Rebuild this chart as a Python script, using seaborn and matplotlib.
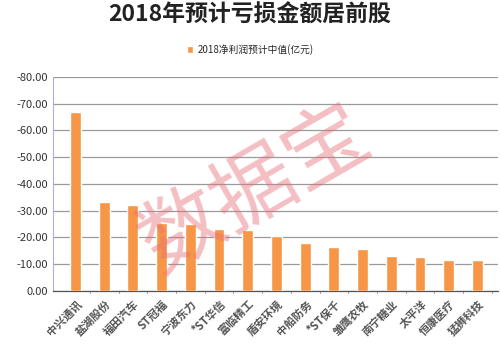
import matplotlib
matplotlib.use("Agg")
import matplotlib.pyplot as plt
import seaborn as sns
import pandas as pd

# data (values in 亿元, negative = loss)
companies = ["中兴通讯", "盐湖股份", "福田汽车", "ST冠福", "宁波东力", "*ST华信", "富临精工",
             "盾安环境", "中船防务", "*ST保千", "雏鹰农牧", "南宁糖业", "太平洋", "恒康医疗", "猛狮科技"]
profit = [-66.9, -33.4, -32.0, -25.3, -25.1, -23.1, -22.6,
          -20.7, -17.8, -16.3, -15.5, -12.9, -12.5, -11.7, -11.7]
series_name = "2018净利润预计中值(亿元)"
y_ticks = [0, -10, -20, -30, -40, -50, -60, -70, -80]

df = pd.DataFrame({"company": companies, "profit": profit})

sns.set_style("white")
plt.rcParams["font.family"] = ["Noto Sans CJK SC", "DejaVu Sans"]

fig, ax = plt.subplots(figsize=(5, 3.57), dpi=100)
fig.subplots_adjust(left=0.105, right=0.995, top=0.785, bottom=0.185)

sns.barplot(data=df, x="company", y="profit", color="#F79646", width=0.38,
            saturation=1, label=series_name, ax=ax, zorder=3)
if ax.get_legend() is not None:
    ax.get_legend().remove()

# reversed value axis like the Excel original
ax.set_ylim(0, -80)
ax.set_yticks(y_ticks)
ax.set_yticklabels([f"{t:.2f}" for t in y_ticks], fontsize=8, color="#333333")
ax.yaxis.grid(True, color="#9a9a9a", linewidth=0.9, zorder=0)
ax.set_xlim(-0.8, len(companies) - 0.3)
ax.set_xlabel("")
ax.set_ylabel("")

ax.set_xticks(range(len(companies)))
ax.set_xticklabels(companies, rotation=45, ha="right", rotation_mode="anchor",
                   fontsize=8, color="#555555", fontweight="bold")
ax.tick_params(axis="x", length=0, pad=5)
ax.tick_params(axis="y", length=0, pad=3)

# small tick marks between categories
for i in range(len(companies)):
    ax.plot([i + 0.5, i + 0.5], [0, 0.9], color="#8a8aa8", linewidth=0.6, clip_on=False, zorder=2)

for side in ["top", "right"]:
    ax.spines[side].set_visible(False)
ax.spines["left"].set_color("#b9a8d8")
ax.spines["left"].set_linewidth(0.8)
ax.spines["bottom"].set_color("#555555")
ax.spines["bottom"].set_linewidth(0.9)

fig.suptitle("2018年预计亏损金额居前股", x=0.5, y=0.99, fontsize=16.5,
             fontweight="bold", color="#222222")
handles, labels = ax.get_legend_handles_labels()
fig.legend(handles[:1], labels[:1], loc="upper center", bbox_to_anchor=(0.5, 0.9), frameon=False,
           fontsize=7, handlelength=0.7, handleheight=0.7, handletextpad=0.4)

# watermark
fig.text(0.51, 0.47, "数据宝", fontsize=60, color="#e8707a", alpha=0.45,
         rotation=30, ha="center", va="center")

fig.savefig("out.png", dpi=100)
